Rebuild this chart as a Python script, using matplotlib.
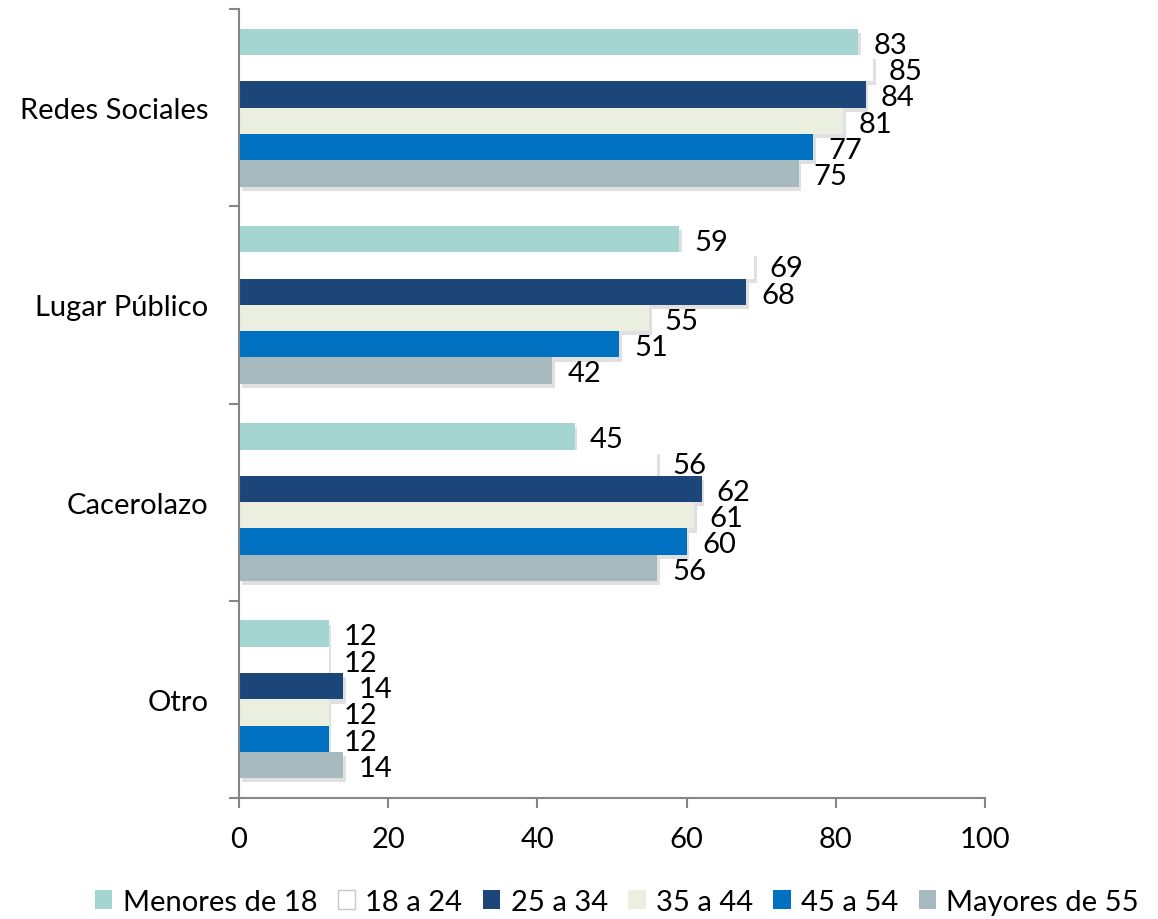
import matplotlib
matplotlib.use("Agg")
import matplotlib.pyplot as plt
import matplotlib.patheffects as pe
from matplotlib.patches import Patch
import numpy as np

categories = ["Redes Sociales", "Lugar Público", "Cacerolazo", "Otro"]
series_names = ["Menores de 18", "18 a 24", "25 a 34", "35 a 44", "45 a 54", "Mayores de 55"]
values = {
    "Menores de 18": [83, 59, 45, 12],
    "18 a 24": [85, 69, 56, 12],
    "25 a 34": [84, 68, 62, 14],
    "35 a 44": [81, 55, 61, 12],
    "45 a 54": [77, 51, 60, 12],
    "Mayores de 55": [75, 42, 56, 14],
}
colors = ["#A5D5D0", "#FFFFFF", "#1C4679", "#EBEFDF", "#0070C0", "#A5B9BF"]
xticks = [0, 20, 40, 60, 80, 100]

plt.rcParams['font.family'] = ['Lato', 'DejaVu Sans']
FS = 21

fig = plt.figure(figsize=(11.58, 9.2), dpi=100)
ax = fig.add_axes([239/1158, 1-799/920, (985-239)/1158, (799-10)/920])

n = len(series_names)
group = 0.80
bh = group / n
y = np.arange(len(categories))
shadow = [pe.withSimplePatchShadow(offset=(2, -3), shadow_rgbFace="#999999", alpha=0.3)]
for i, name in enumerate(series_names):
    pos = y - group/2 + bh*(i + 0.5)
    bars = ax.barh(pos, values[name], height=bh, color=colors[i],
                   edgecolor="none", zorder=2)
    for b in bars:
        b.set_path_effects(shadow)
    for p, v in zip(pos, values[name]):
        ax.annotate(f"{v}", xy=(v, p), xytext=(11, -2), textcoords="offset points",
                    va="center", ha="left", fontsize=FS, color="black", zorder=3)

ax.set_xlim(0, 100)
ax.set_ylim(len(categories) - 0.5, -0.5)
ax.set_xticks(xticks)
ax.set_xticklabels([str(t) for t in xticks])
ax.set_yticks(y)
ax.set_yticklabels(categories)
ax.set_yticks(np.arange(len(categories) + 1) - 0.5, minor=True)

for s in ["top", "right"]:
    ax.spines[s].set_visible(False)
for s in ["left", "bottom"]:
    ax.spines[s].set_color("#868686")
    ax.spines[s].set_linewidth(1.5)

ax.tick_params(axis="y", which="major", length=0, pad=22, labelsize=FS)
ax.tick_params(axis="y", which="minor", length=7, width=1.5, color="#868686", direction="out")
ax.tick_params(axis="x", which="major", length=7, width=1.5, color="#868686", direction="out",
               pad=13, labelsize=FS)

handles = []
for i, name in enumerate(series_names):
    ec = "#C8C8C8" if colors[i].upper() == "#FFFFFF" else "none"
    handles.append(Patch(facecolor=colors[i], edgecolor=ec, linewidth=1, label=name))
leg = fig.legend(handles=handles, loc="center", bbox_to_anchor=(617/1158, 1-903/920), ncol=6,
                 frameon=False, fontsize=FS, handlelength=0.6, handleheight=0.6,
                 handletextpad=0.35, columnspacing=0.7, borderaxespad=0)

fig.savefig("out.png", dpi=100)
